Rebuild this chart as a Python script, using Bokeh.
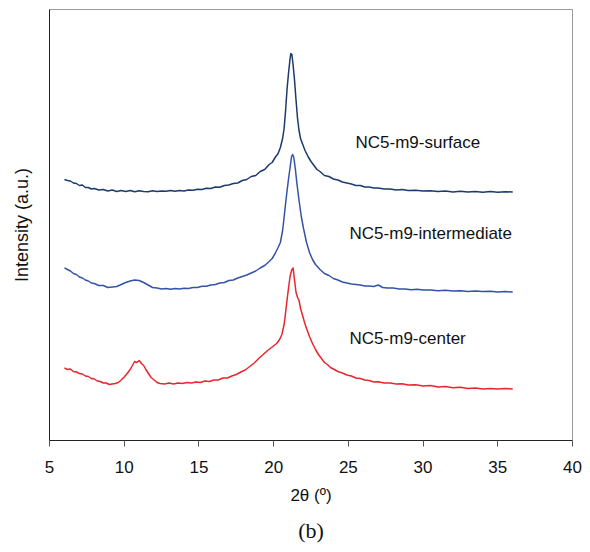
from bokeh.plotting import figure
from bokeh.models import Range1d, FixedTicker, Label, Title
from bokeh.embed import file_html
from bokeh.resources import INLINE

# XRD patterns: 2-theta (degrees) and intensity (a.u., curves vertically offset)
surface_x = [6.0, 6.2, 6.4, 6.6, 6.8, 7.0, 7.2, 7.4, 7.6, 7.8, 8.0, 8.3, 8.6, 8.9, 9.2, 9.5,
             9.8, 10.1, 10.4, 10.7, 11.0, 11.3, 11.6, 11.9, 12.2, 12.5, 12.8, 13.1, 13.4,
             13.7, 14.0, 14.3, 14.6, 14.9, 15.2, 15.5, 15.8, 16.1, 16.4, 16.7, 17.0, 17.3,
             17.6, 17.9, 18.2, 18.5, 18.8, 19.1, 19.4, 19.7, 19.9, 20.1, 20.3, 20.45, 20.6,
             20.7, 20.8, 20.9, 21.0, 21.1, 21.15, 21.22, 21.3, 21.4, 21.5, 21.6, 21.7, 21.8,
             21.95, 22.1, 22.3, 22.5, 22.7, 22.9, 23.1, 23.4, 23.7, 24.0, 24.3, 24.6, 24.9,
             25.2, 25.5, 25.8, 26.1, 26.4, 26.7, 27.0, 27.4, 27.8, 28.2, 28.6, 29.0, 29.5,
             30.0, 30.5, 31.0, 31.5, 32.0, 32.5, 33.0, 33.5, 34.0, 34.5, 35.0, 35.5, 36.0]
surface_y = [261, 260, 259.5, 257.5, 257, 255, 255.5, 253, 253, 251.5, 252, 250.5, 251,
             249.5, 250.5, 249, 250, 249, 250, 248.8, 249.8, 249, 248.8, 249.8, 249, 249.6,
             249.2, 250, 249.3, 250, 249.6, 250.5, 250.2, 251.2, 251, 252.3, 252, 253.5,
             253.2, 255, 255.5, 257, 257.5, 260, 261, 264, 265, 269, 271, 276, 278, 283,
             287, 293, 302, 312, 330, 352, 368, 382, 387, 386, 376, 360, 340, 322, 310,
             302, 296, 290, 284, 279, 275, 271, 269, 265, 264, 261.5, 260.5, 258.5, 257.5,
             256.5, 255, 255, 253.5, 253.5, 252.5, 252.5, 251.5, 251.5, 250.6, 251, 250,
             250.3, 249.5, 249.8, 249, 249.5, 248.6, 249.2, 248.5, 249, 248.3, 248.9, 248.3,
             248.8, 248.4]

intermediate_x = [6.0, 6.2, 6.4, 6.6, 6.8, 7.0, 7.2, 7.4, 7.6, 7.8, 8.0, 8.3, 8.6, 8.9, 9.2,
                  9.5, 9.8, 10.1, 10.4, 10.7, 11.0, 11.3, 11.6, 11.9, 12.2, 12.5, 12.8, 13.1,
                  13.4, 13.7, 14.0, 14.3, 14.6, 14.9, 15.2, 15.5, 15.8, 16.1, 16.4, 16.7,
                  17.0, 17.3, 17.6, 17.9, 18.2, 18.5, 18.8, 19.1, 19.4, 19.7, 19.9, 20.1,
                  20.3, 20.45, 20.6, 20.7, 20.8, 20.9, 21.0, 21.1, 21.2, 21.27, 21.35, 21.45,
                  21.55, 21.7, 21.85, 22.0, 22.2, 22.4, 22.6, 22.8, 23.1, 23.4, 23.7, 24.0,
                  24.3, 24.6, 24.9, 25.2, 25.5, 25.8, 26.1, 26.4, 26.7, 27.0, 27.3, 27.6,
                  28.0, 28.4, 28.8, 29.2, 29.6, 30.0, 30.5, 31.0, 31.5, 32.0, 32.5, 33.0,
                  33.5, 34.0, 34.5, 35.0, 35.5, 36.0]
intermediate_y = [172.7, 171, 169.5, 167, 166, 163.5, 162.5, 160.5, 159.5, 157.5, 157, 155,
                  155, 153, 153.5, 154, 156, 158, 159.5, 160.5, 160, 158, 155.5, 153, 152.5,
                  151.5, 152, 151.3, 152, 151.5, 152.3, 152, 153, 153, 154.3, 154.2, 155.5,
                  156, 157.5, 158, 160, 160.5, 162.5, 164, 165.5, 167.5, 169.5, 172.5, 175,
                  179, 182, 187, 193, 198, 210, 223, 237, 250, 262, 273, 284, 286, 283, 272,
                  258, 240, 224, 212, 198, 188, 181, 176, 171, 167, 165, 162, 160.5, 158.5,
                  157.5, 156.5, 156, 155.5, 154.5, 154.5, 154, 155.5, 153, 152.5, 152.5,
                  151.5, 151.5, 150.8, 151.2, 150.4, 150.6, 149.7, 150.2, 149.4, 149.8,
                  149.1, 149.6, 148.9, 149.3, 148.6, 149, 148.4]

center_x = [6.0, 6.2, 6.4, 6.6, 6.8, 7.0, 7.2, 7.4, 7.6, 7.8, 8.0, 8.2, 8.4, 8.6, 8.8, 9.0,
            9.2, 9.4, 9.6, 9.8, 10.0, 10.2, 10.4, 10.55, 10.7, 10.85, 11.0, 11.15, 11.3,
            11.45, 11.6, 11.8, 12.0, 12.2, 12.4, 12.7, 13.0, 13.3, 13.6, 13.9, 14.2, 14.5,
            14.8, 15.1, 15.4, 15.7, 16.0, 16.3, 16.6, 16.9, 17.2, 17.5, 17.8, 18.1, 18.4,
            18.7, 19.0, 19.3, 19.6, 19.9, 20.2, 20.4, 20.55, 20.7, 20.8, 20.9, 21.0, 21.1,
            21.2, 21.3, 21.4, 21.5, 21.6, 21.7, 21.8, 21.9, 22.05, 22.2, 22.4, 22.6, 22.8,
            23.0, 23.2, 23.4, 23.6, 23.8, 24.0, 24.3, 24.6, 24.9, 25.2, 25.5, 25.8, 26.1,
            26.4, 26.7, 27.0, 27.4, 27.8, 28.2, 28.6, 29.0, 29.5, 30.0, 30.5, 31.0, 31.5,
            32.0, 32.5, 33.0, 33.5, 34.0, 34.5, 35.0, 35.5, 36.0]
center_y = [72.7, 71, 71.5, 69, 68.5, 67, 66.5, 64.5, 64, 62, 61.5, 59.5, 59, 57.5, 57.5,
            56, 56.5, 57, 58, 60.5, 63.5, 67, 71, 75, 79, 78, 80, 77, 75, 71, 67.5, 63,
            60.5, 58, 57, 56.5, 57.5, 56.5, 57.5, 57, 58, 57.5, 58.5, 58, 59.5, 59, 60.5,
            60.5, 62.5, 62.5, 64.5, 66, 68.5, 70.5, 74, 77.5, 82, 86, 90, 93.5, 97, 101,
            106, 116, 128, 141, 153, 164, 170, 172.5, 160, 148, 143, 140, 132, 127, 119,
            112, 104, 97, 91, 86, 82, 78, 76, 73, 71.5, 69, 67.5, 65.5, 64.5, 62.5, 62,
            60.5, 60, 58.5, 58.8, 57.5, 57.6, 56.4, 56.8, 55.5, 55.8, 54.5, 55, 53.6, 54,
            52.8, 53.2, 52, 52.5, 51.6, 52, 51.4, 51.9, 51.6]

x_ticks = [5, 10, 15, 20, 25, 30, 35, 40]
names = ["NC5-m9-surface", "NC5-m9-intermediate", "NC5-m9-center"]
label_pos = [(25.48, 298), (25.08, 207), (25.08, 102)]
colors = ["#1c3a6b", "#3453a8", "#e8262c"]

FONT = "Liberation Sans"

p = figure(width=590, height=552, output_backend="svg", toolbar_location=None,
           x_range=Range1d(5, 40), y_range=Range1d(0, 431),
           min_border_left=49, min_border_right=18, min_border_top=9,
           min_border_bottom=112)
p.background_fill_color = "white"
p.border_fill_color = "white"
p.outline_line_color = "#999999"
p.grid.visible = False

for xs, ys, c in zip([surface_x, intermediate_x, center_x],
                     [surface_y, intermediate_y, center_y], colors):
    p.line(xs, ys, line_color=c, line_width=1.5, line_join="round")

for name, (lx, ly) in zip(names, label_pos):
    p.add_layout(Label(x=lx, y=ly, text=name, text_font=FONT, text_font_size="17px",
                       text_color="#111111", text_baseline="middle", text_align="left"))

xa = p.xaxis[0]
xa.ticker = FixedTicker(ticks=x_ticks)
xa.axis_line_color = "#222222"
xa.major_tick_line_color = "#555555"
xa.major_tick_out = 6
xa.major_tick_in = 0
xa.minor_tick_line_color = None
xa.major_label_text_font = FONT
xa.major_label_text_font_size = "17px"
xa.major_label_text_color = "#111111"
xa.major_label_standoff = 14
xa.axis_label = "2θ (º)"
xa.axis_label_text_font = FONT
xa.axis_label_text_font_size = "17px"
xa.axis_label_text_font_style = "normal"
xa.axis_label_text_color = "#111111"
xa.axis_label_standoff = 10

ya = p.yaxis[0]
ya.ticker = FixedTicker(ticks=[])
ya.axis_line_color = "#222222"
ya.major_tick_line_color = None
ya.minor_tick_line_color = None
ya.axis_label = "Intensity (a.u.)"
ya.axis_label_text_font = FONT
ya.axis_label_text_font_size = "18px"
ya.axis_label_text_font_style = "normal"
ya.axis_label_text_color = "#111111"
ya.axis_label_standoff = 18

# panel caption under the axis title
p.add_layout(Title(text="(b)", text_font="Liberation Serif", text_font_size="22px",
                   text_font_style="normal", text_color="#111111", align="center",
                   offset=-13, standoff=17), "below")

open("out.html", "w").write(file_html(p, INLINE))
